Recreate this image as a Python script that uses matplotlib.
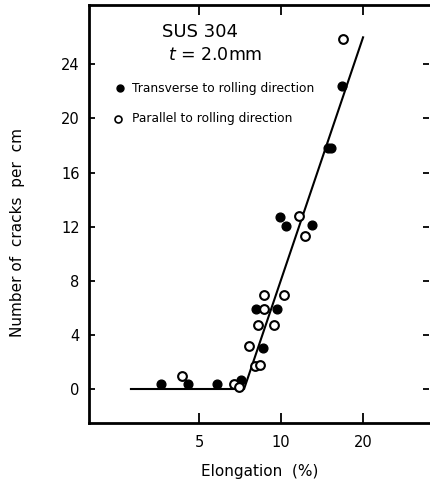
import matplotlib
matplotlib.use("Agg")
import matplotlib.pyplot as plt
from matplotlib.ticker import NullLocator, FixedLocator, FixedFormatter

# transverse to rolling direction (filled)
trans_x = [3.6, 4.55, 5.8, 7.1, 8.55, 8.1, 9.65, 9.9, 10.4, 13.0, 14.9, 15.3, 16.7]
trans_y = [0.35, 0.35, 0.35, 0.65, 3.05, 5.9, 5.9, 12.75, 12.05, 12.1, 17.8, 17.8, 22.4]

# parallel to rolling direction (open)
par_x = [4.33, 6.73, 7.0, 7.58, 8.02, 8.35, 8.18, 8.61, 8.66, 9.42, 10.2, 11.6, 12.2, 16.9]
par_y = [0.96, 0.4, 0.15, 3.2, 1.7, 1.75, 4.74, 5.9, 6.96, 4.74, 6.96, 12.8, 11.3, 25.85]

# fitted line (bilinear)
fit_x = [2.8, 7.3, 20.0]
fit_y = [0, 0, 26.0]

xticks = [5, 10, 20]
yticks = [0, 4, 8, 12, 16, 20, 24]

fig = plt.figure(figsize=(4.3, 4.86), dpi=100)
ax = fig.add_axes([0.208, 0.130, 0.790, 0.860])

ax.plot(fit_x, fit_y, color="black", lw=1.5, zorder=2)
ax.plot(trans_x, trans_y, "o", color="black", ms=6.3, zorder=3)
ax.plot(par_x, par_y, "o", mfc="white", mec="black", mew=1.5, ms=6.3, zorder=3)

ax.set_xscale("log")
ax.set_xlim(1.97, 35)
ax.set_ylim(-2.5, 28.4)
ax.xaxis.set_major_locator(FixedLocator(xticks))
ax.xaxis.set_major_formatter(FixedFormatter([str(v) for v in xticks]))
ax.xaxis.set_minor_locator(NullLocator())
ax.set_yticks(yticks)

ax.tick_params(axis="x", direction="in", length=7, width=1.3, labelsize=10.5,
               pad=9, top=True)
ax.tick_params(axis="y", direction="in", length=4, width=1.3, labelsize=10.5,
               pad=7, right=True)
for s in ["left", "bottom", "top"]:
    ax.spines[s].set_linewidth(2)
ax.spines["right"].set_visible(False)

ax.set_xlabel("Elongation  (%)", fontsize=11, labelpad=10)
ax.set_ylabel("Number of  cracks  per  cm", fontsize=11)
ax.yaxis.set_label_coords(-0.19, 0.455)

# legend drawn as text like the original
ax.text(0.215, 0.935, "SUS 304", transform=ax.transAxes, fontsize=13,
        ha="left", va="center")
ax.text(0.23, 0.88, "$t$ = 2.0mm", transform=ax.transAxes, fontsize=12.5,
        ha="left", va="center")
ax.plot([0.09], [0.80], "o", color="black", ms=5, transform=ax.transAxes)
ax.text(0.125, 0.80, "Transverse to rolling direction", transform=ax.transAxes,
        fontsize=8.8, ha="left", va="center")
ax.plot([0.085], [0.728], "o", mfc="white", mec="black", mew=1.2, ms=5,
        transform=ax.transAxes)
ax.text(0.125, 0.728, "Parallel to rolling direction", transform=ax.transAxes,
        fontsize=8.8, ha="left", va="center")

fig.savefig("out.png", dpi=100)
